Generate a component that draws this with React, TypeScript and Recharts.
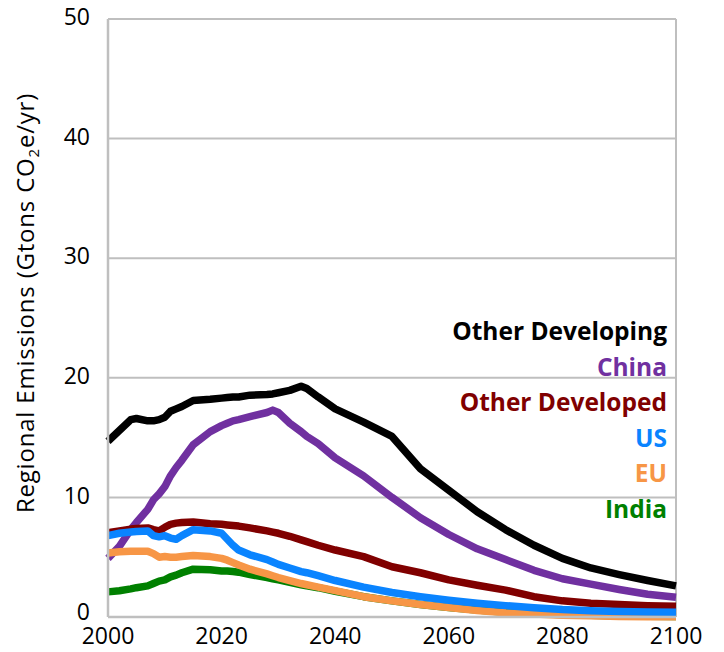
import React from 'react';
import { LineChart, Line, XAxis, YAxis, CartesianGrid, ReferenceLine } from 'recharts';

const years = [2000, 2002, 2004, 2005, 2007, 2008, 2009, 2010, 2011, 2012, 2013, 2015, 2018, 2020, 2021, 2022, 2023, 2025, 2028, 2029, 2030, 2032, 2034, 2035, 2037, 2040, 2045, 2050, 2055, 2060, 2065, 2070, 2075, 2080, 2085, 2090, 2095, 2100];

const otherDeveloping = [14.7, 15.6, 16.5, 16.6, 16.4, 16.4, 16.5, 16.7, 17.2, 17.4, 17.6, 18.1, 18.2, 18.3, 18.35, 18.4, 18.4, 18.55, 18.6, 18.65, 18.75, 18.95, 19.3, 19.1, 18.4, 17.4, 16.3, 15.1, 12.4, 10.6, 8.8, 7.3, 6.0, 4.9, 4.1, 3.55, 3.05, 2.6];
const china = [4.9, 5.9, 7.3, 7.9, 9.0, 9.8, 10.3, 10.9, 11.8, 12.5, 13.1, 14.4, 15.5, 16.0, 16.2, 16.4, 16.5, 16.75, 17.1, 17.3, 17.1, 16.2, 15.5, 15.1, 14.5, 13.3, 11.8, 10.0, 8.3, 6.9, 5.7, 4.8, 3.9, 3.2, 2.75, 2.3, 1.9, 1.65];
const otherDeveloped = [7.05, 7.2, 7.35, 7.4, 7.45, 7.3, 7.2, 7.5, 7.75, 7.85, 7.9, 7.95, 7.8, 7.75, 7.7, 7.65, 7.6, 7.45, 7.2, 7.1, 7.0, 6.75, 6.45, 6.3, 6.0, 5.6, 5.05, 4.2, 3.7, 3.1, 2.65, 2.25, 1.7, 1.35, 1.15, 1.05, 0.95, 0.9];
const us = [6.8, 7.0, 7.1, 7.15, 7.2, 6.8, 6.7, 6.8, 6.6, 6.5, 6.8, 7.3, 7.2, 7.0, 6.5, 6.0, 5.6, 5.2, 4.8, 4.6, 4.4, 4.1, 3.8, 3.7, 3.45, 3.05, 2.5, 2.05, 1.7, 1.4, 1.15, 0.95, 0.78, 0.62, 0.52, 0.45, 0.42, 0.4];
const eu = [5.35, 5.45, 5.5, 5.5, 5.5, 5.3, 5.0, 5.05, 5.0, 5.0, 5.05, 5.15, 5.05, 4.9, 4.75, 4.55, 4.35, 4.0, 3.6, 3.45, 3.3, 3.05, 2.8, 2.7, 2.5, 2.2, 1.7, 1.35, 1.05, 0.8, 0.55, 0.35, 0.25, 0.15, 0.1, 0.05, 0.03, 0.02];
const india = [2.1, 2.2, 2.35, 2.45, 2.6, 2.8, 3.0, 3.1, 3.35, 3.5, 3.7, 4.0, 3.95, 3.85, 3.85, 3.8, 3.75, 3.55, 3.3, 3.2, 3.1, 2.9, 2.7, 2.6, 2.45, 2.15, 1.7, 1.35, 1.05, 0.8, 0.58, 0.4, 0.28, 0.2, 0.14, 0.1, 0.07, 0.05];

const xTicks = [2000, 2020, 2040, 2060, 2080, 2100];
const yTicks = [0, 10, 20, 30, 40, 50];

const seriesLabels = ['Other Developing', 'China', 'Other Developed', 'US', 'EU', 'India'];
const seriesColors = ['#000000', '#7030A0', '#800000', '#0A84FF', '#F79646', '#008000'];
const yAxisTitle = 'Regional Emissions (Gtons CO';
const yAxisTitleEnd = 'e/yr)';

const data = years.map((year, i) => ({
  year,
  otherDeveloping: otherDeveloping[i],
  china: china[i],
  otherDeveloped: otherDeveloped[i],
  us: us[i],
  eu: eu[i],
  india: india[i],
}));

const FONT = '"Open Sans", "Noto Sans", sans-serif';
const GRAY = '#BFBFBF';

const YTick = (props: any) => {
  const { x, y, payload } = props;
  const shift = payload.value === 0 ? -5 : -2;
  return (
    <text x={x} y={y + shift} dy="0.355em" textAnchor="end" fontFamily={FONT} fontSize={23} fill="#000">
      {payload.value}
    </text>
  );
};

const Annotations = () => (
  <g>
    <text
      transform="translate(34,303) rotate(-90)"
      textAnchor="middle"
      fontFamily={FONT}
      fontSize={24}
      letterSpacing={0.8}
      fill="#000"
    >
      {yAxisTitle}
      <tspan fontSize={15} dy={5}>2</tspan>
      <tspan dy={-5}>{yAxisTitleEnd}</tspan>
    </text>
    {seriesLabels.map((lab, i) => (
      <text
        key={lab}
        x={667}
        y={340 + i * 35.6}
        textAnchor="end"
        fontFamily={FONT}
        fontWeight="bold"
        fontSize={24.5}
        fill={seriesColors[i]}
      >
        {lab}
      </text>
    ))}
  </g>
);

export default function App() {
  return (
    <div style={{ position: 'absolute', left: 0, top: 0, width: 724, height: 652, background: '#fff' }}>
      <LineChart width={724} height={652} data={data} margin={{ top: 19, right: 48, bottom: 0, left: 0 }}>
        <CartesianGrid horizontal vertical={false} stroke={GRAY} strokeWidth={2} />
        <XAxis
          dataKey="year"
          type="number"
          domain={[2000, 2100]}
          ticks={xTicks}
          height={35}
          tickLine={false}
          tickMargin={5}
          axisLine={{ stroke: GRAY, strokeWidth: 2.5 }}
          tick={{ fontSize: 23, fill: '#000', fontFamily: FONT }}
          interval={0}
        />
        <YAxis
          type="number"
          domain={[0, 50]}
          ticks={yTicks}
          width={108}
          tickLine={false}
          tickMargin={12}
          axisLine={{ stroke: GRAY, strokeWidth: 2.5 }}
          tick={<YTick />}
          interval={0}
        />
        <ReferenceLine x={2100} stroke={GRAY} strokeWidth={2} />
        <Line dataKey="china" stroke="#7030A0" strokeWidth={7.5} dot={false} isAnimationActive={false} strokeLinejoin="round" />
        <Line dataKey="india" stroke="#008000" strokeWidth={7.5} dot={false} isAnimationActive={false} strokeLinejoin="round" />
        <Line dataKey="eu" stroke="#F79646" strokeWidth={7.5} dot={false} isAnimationActive={false} strokeLinejoin="round" />
        <Line dataKey="otherDeveloped" stroke="#800000" strokeWidth={7.5} dot={false} isAnimationActive={false} strokeLinejoin="round" />
        <Line dataKey="us" stroke="#0A84FF" strokeWidth={7.5} dot={false} isAnimationActive={false} strokeLinejoin="round" />
        <Line dataKey="otherDeveloping" stroke="#000000" strokeWidth={7.5} dot={false} isAnimationActive={false} strokeLinejoin="round" />
        <Annotations />
      </LineChart>
    </div>
  );
}
